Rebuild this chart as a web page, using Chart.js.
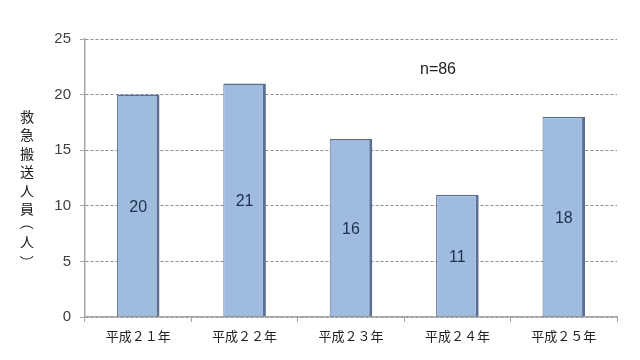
<!DOCTYPE html>
<html><head><meta charset="utf-8">
<script src="https://cdn.jsdelivr.net/npm/chart.js@4.4.0/dist/chart.umd.min.js"></script>
<style>html,body{margin:0;padding:0;background:#fff;}#wrap{width:640px;height:360px;}</style>
</head><body><div id="wrap"><canvas id="c" width="640" height="360"></canvas></div>
<script>
const categories = ["平成２１年","平成２２年","平成２３年","平成２４年","平成２５年"];
const values = [20, 21, 16, 11, 18];
const yTicks = [0, 5, 10, 15, 20, 25];
const yTitle = "救急搬送人員（人）";
const note = "n=86";

const numFont = "'Liberation Sans', Arial, sans-serif";
const jpFont = "'Noto Sans CJK JP', sans-serif";

const labelPlugin = {
  id: 'extras',
  afterDatasetsDraw(chart) {
    const ctx = chart.ctx;
    const meta = chart.getDatasetMeta(0);
    ctx.save();
    ctx.fillStyle = '#1f2f4f';
    ctx.font = "16px " + numFont;
    ctx.textAlign = 'center';
    ctx.textBaseline = 'middle';
    meta.data.forEach((bar, i) => {
      const mid = (bar.y + bar.base) / 2;
      ctx.fillText(String(values[i]), bar.x, mid + 2);
    });
    ctx.fillStyle = '#222';
    ctx.font = "16px " + numFont;
    ctx.fillText(note, 438, 70);
    // vertical y title
    ctx.fillStyle = '#222';
    ctx.font = "14px " + jpFont;
    const chars = Array.from(yTitle);
    const steps = chars.map(ch => (ch === '（' || ch === '）') ? 14 : 18.5);
    const total = steps.reduce((a, b) => a + b, 0);
    let y = (chart.chartArea.top + chart.chartArea.bottom) / 2 - total / 2 + 12;
    const x = 27;
    chars.forEach((ch, i) => {
      const h = steps[i];
      if (ch === '（' || ch === '）') {
        ctx.save();
        ctx.translate(x, y + h / 2 - 3);
        ctx.rotate(Math.PI / 2);
        ctx.textAlign = 'center';
        ctx.textBaseline = 'middle';
        const w = ctx.measureText(ch).width;
        // full-width paren ink sits on one side of its box; shift to center
        ctx.fillText(ch, ch === '（' ? -w * 0.25 : w * 0.25, 0);
        ctx.restore();
      } else {
        ctx.fillText(ch, x, y + h / 2 - 4);
      }
      y += h;
    });
    ctx.restore();
  }
};

function barFill(context) {
  const el = context.element;
  const c = context.chart.ctx;
  if (!el || el.x === undefined || !el.width) return '#9fbbdd';
  const l = el.x - el.width / 2, r = el.x + el.width / 2;
  const g = c.createLinearGradient(l, 0, r, 0);
  g.addColorStop(0, '#92aed3');
  g.addColorStop(0.25, '#a5c0e2');
  g.addColorStop(0.75, '#a5c0e2');
  g.addColorStop(1, '#8aa6cc');
  return g;
}

new Chart(document.getElementById('c'), {
  type: 'bar',
  data: {
    labels: categories,
    datasets: [{
      data: values,
      backgroundColor: barFill,
      borderColor: '#5a6f92',
      borderWidth: {left: 1, right: 3, top: 1.5, bottom: 1},
      borderSkipped: false,
      categoryPercentage: 1,
      barPercentage: 0.4
    }]
  },
  options: {
    responsive: false,
    animation: false,
    devicePixelRatio: 1,
    layout: {padding: {left: 0, right: 23, top: 39, bottom: 0}},
    plugins: {legend: {display: false}, tooltip: {enabled: false}},
    scales: {
      x: {
        afterFit(s) { s.height = 43; },
        grid: {drawOnChartArea: false, offset: true, tickLength: 5, color: '#a6a6a6'},
        border: {color: '#a6a6a6', width: 1.5},
        ticks: {color: '#222', font: {family: jpFont, size: 13}, padding: 6}
      },
      y: {
        min: 0, max: 25,
        afterFit(s) { s.width = 85; },
        afterBuildTicks(s) { s.ticks = yTicks.map(v => ({value: v})); },
        grid: {color: '#8c8c8c', tickLength: 5, tickColor: '#a6a6a6', lineWidth: 1},
        border: {color: '#a6a6a6', width: 1.5, dash: [3, 2]},
        ticks: {color: '#404040', font: {family: numFont, size: 15}, padding: 9}
      }
    }
  },
  plugins: [labelPlugin]
});
</script></body></html>
